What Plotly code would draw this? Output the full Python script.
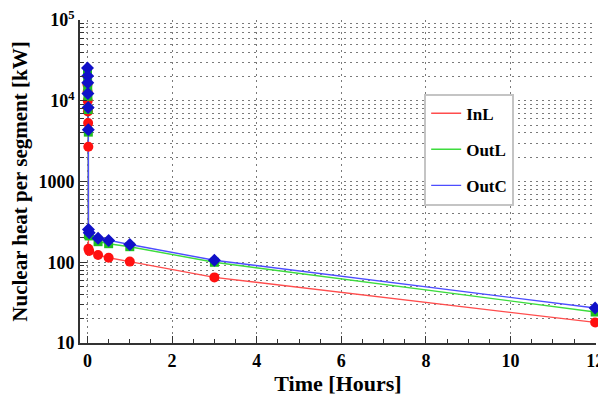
import plotly.graph_objects as go

# ---- data (hours, kW) ----
time_h = [0.0, 0.003, 0.006, 0.01, 0.015, 0.02, 0.022, 0.04, 0.25, 0.5, 1.0, 3.0, 12.0]
inl = [16000, 13000, 10000, 7400, 5300, 2700, 147, 138, 123, 114, 102, 65, 18]
outl = [22400, 18200, 14800, 11400, 7800, 4100, 220, 212, 180, 170, 156, 100, 24.2]
outc = [25600, 20300, 16800, 12300, 8300, 4380, 254, 232, 199, 186, 166, 106, 27.1]

series_names = ["InL", "OutL", "OutC"]
series_values = [inl, outl, outc]
line_colors = ["#ff4d4d", "#3ddc3d", "#4d4dff"]
marker_colors = ["#ff1010", "#1fc01f", "#1010c8"]
marker_symbols = ["circle", "square", "diamond"]
marker_sizes = [10, 9, 10]

y_tickvals = [10, 100, 1000, 10000, 100000]
y_ticktext = ["10", "100", "1000", "10<sup>4</sup>", "10<sup>5</sup>"]
y_minor = [k * 10 ** d for d in range(1, 5) for k in range(2, 10)]

FONT = "Liberation Serif"

fig = go.Figure()
for name, vals, lc in zip(series_names, series_values, line_colors):
    fig.add_trace(go.Scatter(
        x=time_h, y=vals, mode="lines", name=name,
        line=dict(color=lc, width=1.4), legendgroup=name, cliponaxis=False))
for name, vals, mc, sym, sz in zip(series_names, series_values, marker_colors,
                                   marker_symbols, marker_sizes):
    fig.add_trace(go.Scatter(
        x=time_h, y=vals, mode="markers", showlegend=False,
        marker=dict(color=mc, symbol=sym, size=sz, line=dict(width=0)),
        cliponaxis=False))

grid_dash = "2px,4px"
grid_color = "#7a7a7a"

# the page body has an 8px default margin, so the figure is sized to fit
fig.update_layout(
    width=598, height=393,
    margin=dict(l=72, r=10, t=12, b=58),
    paper_bgcolor="white", plot_bgcolor="white",
    font=dict(family=FONT, color="black"),
    showlegend=True,
    legend=dict(
        x=0.667, y=0.772, xanchor="left", yanchor="top",
        bgcolor="white", bordercolor="#c4c4c4", borderwidth=2,
        font=dict(family=FONT, size=17, weight="bold", color="black"),
        tracegroupgap=11, itemwidth=30,
    ),
    xaxis=dict(
        range=[-0.177, 12.02], tickmode="linear", tick0=0, dtick=2,
        automargin=False, ticklabeloverflow="allow",
        showline=True, linecolor="#333333", linewidth=1.8,
        ticks="inside", ticklen=7, tickcolor="#333333",
        showgrid=True, gridcolor=grid_color, griddash=grid_dash, gridwidth=1,
        zeroline=False,
        tickfont=dict(family=FONT, size=18, weight="bold"),
        minor=dict(dtick=0.5, tick0=0, ticks="inside", ticklen=4,
                   tickcolor="#333333", showgrid=False),
        title=dict(text="Time [Hours]", standoff=6,
                   font=dict(family=FONT, size=22, weight="bold")),
    ),
    yaxis=dict(
        type="log", range=[1, 5.002],
        automargin=False, ticklabeloverflow="allow",
        tickmode="array", tickvals=y_tickvals, ticktext=y_ticktext,
        showline=True, linecolor="#333333", linewidth=1.8,
        ticks="inside", ticklen=7, tickcolor="#333333",
        showgrid=True, gridcolor=grid_color, griddash=grid_dash, gridwidth=1,
        zeroline=False,
        tickfont=dict(family=FONT, size=18, weight="bold"),
        minor=dict(tickmode="array", tickvals=y_minor, ticks="inside",
                   ticklen=4, tickcolor="#333333", showgrid=True,
                   gridcolor=grid_color, griddash=grid_dash, gridwidth=1),
        title=dict(text="Nuclear heat per segment [kW]", standoff=6,
                   font=dict(family=FONT, size=21, weight="bold")),
    ),
)

fig.write_html("out.html")
